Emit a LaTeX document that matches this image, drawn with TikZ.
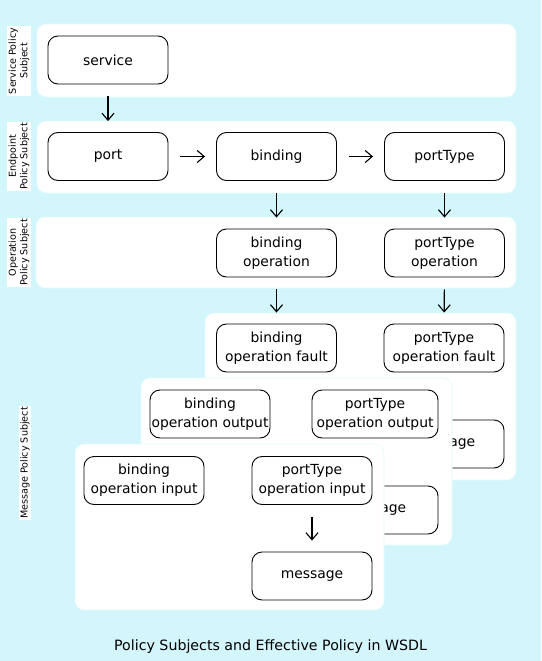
\documentclass[tikz,border=0pt]{standalone}
\usepackage{fontspec}
\setmainfont{DejaVu Sans}
\usetikzlibrary{arrows.meta}
\definecolor{bgcyan}{RGB}{210,246,251}
\definecolor{edgecyan}{RGB}{228,250,253}
\begin{document}
\begin{tikzpicture}[x=1pt,y=-1pt,
  panel/.style={fill=white,draw=edgecyan,line width=0.6pt,rounded corners=9pt},
  box/.style={draw=black,fill=white,line width=0.9pt,rounded corners=10pt,minimum width=120pt,minimum height=48pt,inner sep=0pt,align=center,font=\fontsize{13.9}{19}\selectfont},
  lab/.style={fill=white,rotate=90,inner sep=1.5pt,align=center,font=\fontsize{9.6}{11.5}\selectfont},
  arr/.style={-{Straight Barb[length=7pt,width=12pt]},line width=1.1pt,shorten <=12pt,shorten >=11pt}]
\useasboundingbox (0,0) rectangle (541,661);
\fill[bgcyan] (0,0) rectangle (541,661);
% upper panels
\draw[panel] (37,24) rectangle (516,97);
\draw[panel] (37,121) rectangle (516,193);
\draw[panel] (36,217) rectangle (516,288);
\node[lab] (lserv) at (19,61) {Service Policy\\Subject};
\node[lab] (lend) at (19,156.5) {Endpoint\\Policy Subject};
\node[lab] (lop) at (19,252.5) {Operation\\Policy Subject};
\node[lab] (lmsg) at (25,463) {Message Policy Subject};
\node[box] (service) at (108,60) {service};
\node[box] (port) at (108,156.5) {port};
\node[box] (binding) at (276.5,156.5) {binding};
\node[box] (portType) at (444.5,156.5) {portType};
\node[box] (bindop) at (276.5,253) {binding\\operation};
\node[box] (ptop) at (444.5,253) {portType\\operation};
% fault panel
\draw[panel] (205,313) rectangle (516,480);
\node[box] (bindfault) at (276.5,348) {binding\\operation fault};
\node[box] (ptfault) at (444,348) {portType\\operation fault};
\node[box] (msgF) at (444,444) {message};
% output panel
\draw[panel] (141,378) rectangle (452,545);
\node[box] (bindout) at (210,414) {binding\\operation output};
\node[box,minimum width=126pt] (ptout) at (375,414) {portType\\operation output};
\node[box,minimum width=126pt] (msgO) at (375,510) {message};
% input panel
\draw[panel] (75,444) rectangle (384,610);
\node[box] (bindin) at (144,480.5) {binding\\operation input};
\node[box] (ptin) at (312,480.5) {portType\\operation input};
\node[box] (msg) at (312,576) {message};
% arrows
\draw[arr] (service) -- (port);
\draw[arr] (port) -- (binding);
\draw[arr] (binding) -- (portType);
\draw[arr] (binding) -- (bindop);
\draw[arr] (portType) -- (ptop);
\draw[arr] (bindop) -- (bindfault);
\draw[arr] (ptop) -- (ptfault);
\draw[arr] (ptin) -- (msg);
\node[font=\fontsize{14.2}{16}\selectfont] (caption) at (270.5,647) {Policy Subjects and Effective Policy in WSDL};
\end{tikzpicture}
\end{document}
